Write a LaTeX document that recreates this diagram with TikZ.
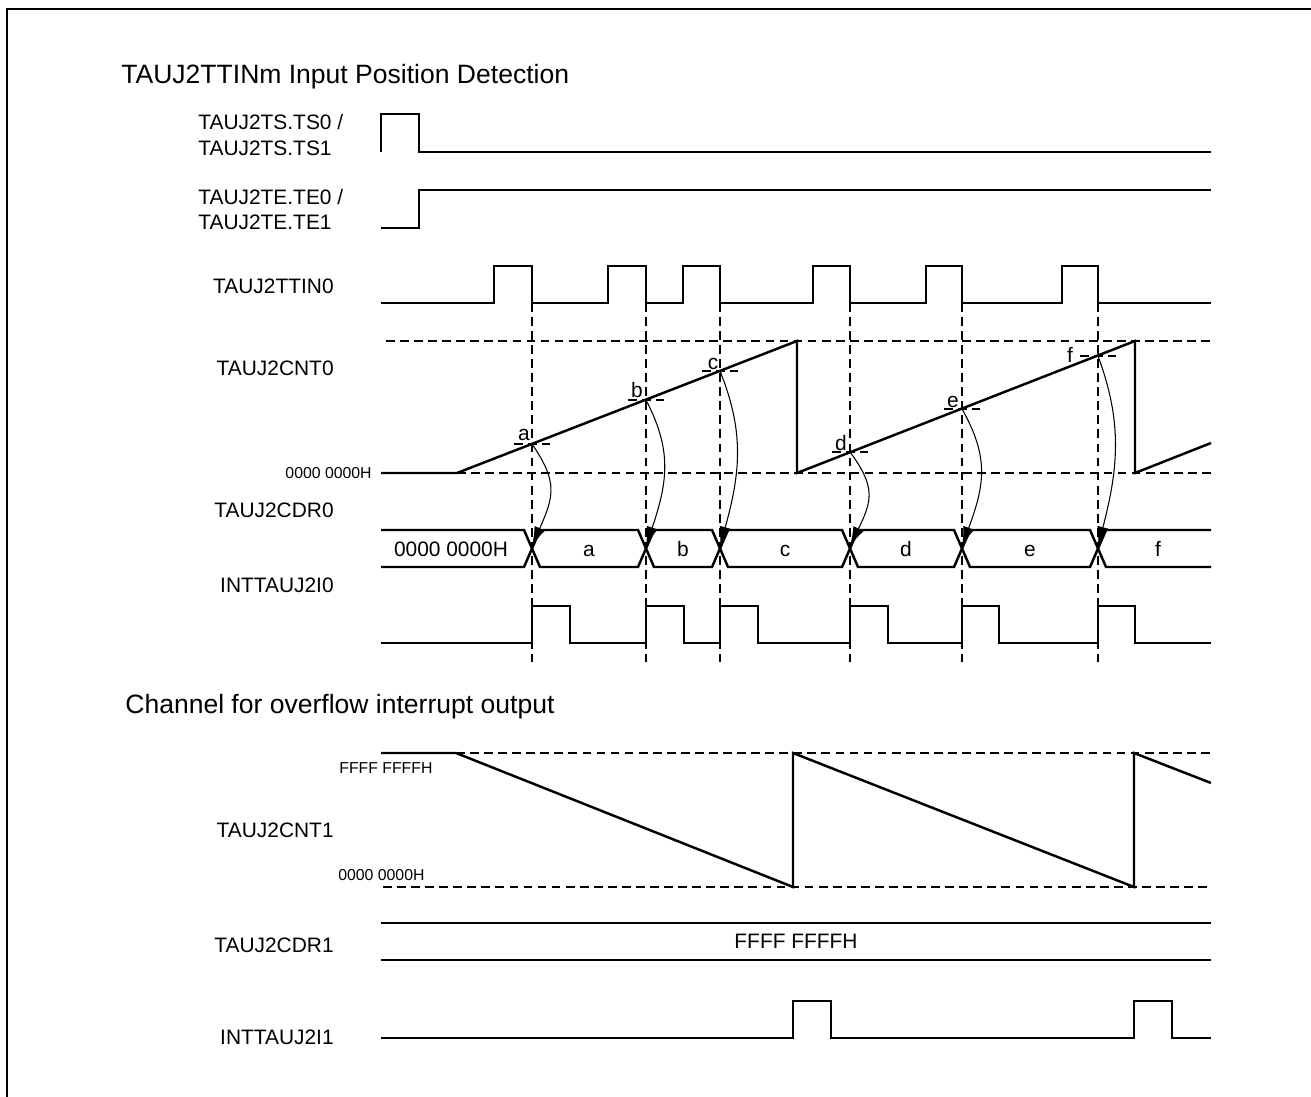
\documentclass[tikz,border=0pt]{standalone}
\usepackage{fontspec}
\setmainfont{Liberation Sans}
\usepackage{tikz}
\usetikzlibrary{arrows.meta}

\begin{document}
\begin{tikzpicture}[
    x=0.02cm, y=-0.02cm,
    wave/.style={line width=1.4pt},
    guide/.style={line width=0.6pt, dash pattern=on 5pt off 3pt},
    capture/.style={-{Latex[length=11pt,width=6.5pt]}, line width=0.6pt},
    head/.style={anchor=west, inner sep=0pt, font=\fontsize{15.1}{18}\selectfont},
    sig/.style={anchor=east, inner sep=0pt, font=\fontsize{11.9}{14.7}\selectfont},
    val/.style={inner sep=0pt, text height=8.5pt, text depth=0pt, font=\fontsize{11.9}{14.7}\selectfont},
    lvl/.style={inner sep=0pt, font=\fontsize{9}{11}\selectfont}
]
\useasboundingbox (0,0) rectangle (1311,1097);
\draw[line width=1.3pt] (7,1097) -- (7,9) -- (1311,9);

% input position detection
\node[head] (title1) at (121,77) {TAUJ2TTINm Input Position Detection};
\node[sig, anchor=west, align=left] (ts) at (198,135) {TAUJ2TS.TS0 /\\TAUJ2TS.TS1};
\node[sig, anchor=west, align=left] (te) at (198,209.5) {TAUJ2TE.TE0 /\\TAUJ2TE.TE1};
\node[sig] (ttin0) at (334,286) {TAUJ2TTIN0};
\node[sig] (cnt0) at (334,368) {TAUJ2CNT0};
\node[sig] (cdr0) at (334,510) {TAUJ2CDR0};
\node[sig] (int0) at (334,585) {INTTAUJ2I0};
\node[lvl, anchor=east] (zero0) at (372,473) {0000 0000H};

\draw[wave] (381,152) -- (381,114) -- (419,114) -- (419,152) -- (1211,152);
\draw[wave] (381,228) -- (419,228) -- (419,190) -- (1211,190);
\draw[wave] (381,303) -- (494,303) -- (494,266) -- (532,266) -- (532,303) -- (608,303) -- (608,266) -- (646,266) -- (646,303) -- (683,303) -- (683,266) -- (720,266) -- (720,303) -- (813,303) -- (813,266) -- (850,266) -- (850,303) -- (926,303) -- (926,266) -- (962,266) -- (962,303) -- (1062,303) -- (1062,266) -- (1098,266) -- (1098,303) -- (1211,303);

\draw[guide] (386,341) -- (1211,341);
\draw[guide] (457,473) -- (1211,473);
\draw[wave] (381,473) -- (457,473) -- (797,341) -- (797,473) -- (1135,341) -- (1135,473) -- (1211,443);

\draw[guide] (532,303) -- (532,662);
\draw[guide] (646,303) -- (646,662);
\draw[guide] (720,303) -- (720,662);
\draw[guide] (850,303) -- (850,662);
\draw[guide] (962,303) -- (962,662);
\draw[guide] (1098,303) -- (1098,662);

\coordinate (pa) at (532,444);
\coordinate (pb) at (646,400);
\coordinate (pc) at (720,371);
\coordinate (pd) at (850,452);
\coordinate (pe) at (962,409);
\coordinate (pf) at (1098,356);
\draw[guide] (pa) ++(-18,0) -- ++(36,0);
\draw[guide] (pb) ++(-18,0) -- ++(36,0);
\draw[guide] (pc) ++(-18,0) -- ++(36,0);
\draw[guide] (pd) ++(-18,0) -- ++(36,0);
\draw[guide] (pe) ++(-18,0) -- ++(36,0);
\draw[guide] (pf) ++(-18,0) -- ++(36,0);
\node[val] (la) at (524,433) {a};
\node[val] (lb) at (637,390) {b};
\node[val] (lc) at (713,362) {c};
\node[val] (ld) at (841,443) {d};
\node[val] (le) at (953,400) {e};
\node[val] (lf) at (1070,355) {f};

% capture register bus
\draw[wave] (381,530) -- (524,530) -- (540,567) -- (638,567) -- (654,530) -- (712,530) -- (728,567) -- (842,567) -- (858,530) -- (954,530) -- (970,567) -- (1090,567) -- (1106,530) -- (1211,530);
\draw[wave] (381,567) -- (524,567) -- (540,530) -- (638,530) -- (654,567) -- (712,567) -- (728,530) -- (842,530) -- (858,567) -- (954,567) -- (970,530) -- (1090,530) -- (1106,567) -- (1211,567);
\coordinate (xa) at (532,546);
\coordinate (xb) at (646,546);
\coordinate (xc) at (720,546);
\coordinate (xd) at (850,546);
\coordinate (xe) at (962,546);
\coordinate (xf) at (1098,546);
\node[val] (v0) at (451,549) {0000 0000H};
\node[val] (va) at (589,549) {a};
\node[val] (vb) at (683,549) {b};
\node[val] (vc) at (785,549) {c};
\node[val] (vd) at (906,549) {d};
\node[val] (ve) at (1030,549) {e};
\node[val] (vf) at (1158,549) {f};

\draw[capture] (pa) .. controls +(26,38) and +(22,-50) .. (xa);
\draw[capture] (pb) .. controls +(26,50) and +(22,-65) .. (xb);
\draw[capture] (pc) .. controls +(24,60) and +(21,-75) .. (xc);
\draw[capture] (pd) .. controls +(26,35) and +(22,-45) .. (xd);
\draw[capture] (pe) .. controls +(27,48) and +(23,-62) .. (xe);
\draw[capture] (pf) .. controls +(24,65) and +(21,-80) .. (xf);

\draw[wave] (381,643) -- (532,643) -- (532,606) -- (570,606) -- (570,643) -- (646,643) -- (646,606) -- (684,606) -- (684,643) -- (720,643) -- (720,606) -- (758,606) -- (758,643) -- (850,643) -- (850,606) -- (888,606) -- (888,643) -- (962,643) -- (962,606) -- (999,606) -- (999,643) -- (1098,643) -- (1098,606) -- (1135,606) -- (1135,643) -- (1211,643);

% overflow channel
\node[head] (title2) at (125,707) {Channel for overflow interrupt output};
\node[sig] (cnt1) at (334,830) {TAUJ2CNT1};
\node[sig] (cdr1) at (334,945) {TAUJ2CDR1};
\node[sig] (int1) at (334,1037) {INTTAUJ2I1};
\node[lvl, anchor=west] (full1) at (339,768) {FFFF FFFFH};
\node[lvl, anchor=west] (zero1) at (338,875) {0000 0000H};

\draw[guide] (456,753) -- (1211,753);
\draw[guide] (383,887) -- (1211,887);
\draw[wave] (381,753) -- (456,753) -- (793,887) -- (793,753) -- (1134,887) -- (1134,753) -- (1211,783);

\draw[wave] (381,923) -- (1211,923);
\draw[wave] (381,960) -- (1211,960);
\node[val] (vfull) at (796,941.5) {FFFF FFFFH};

\draw[wave] (381,1038) -- (793,1038) -- (793,1001) -- (831,1001) -- (831,1038) -- (1134,1038) -- (1134,1001) -- (1172,1001) -- (1172,1038) -- (1211,1038);
\end{tikzpicture}
\end{document}
